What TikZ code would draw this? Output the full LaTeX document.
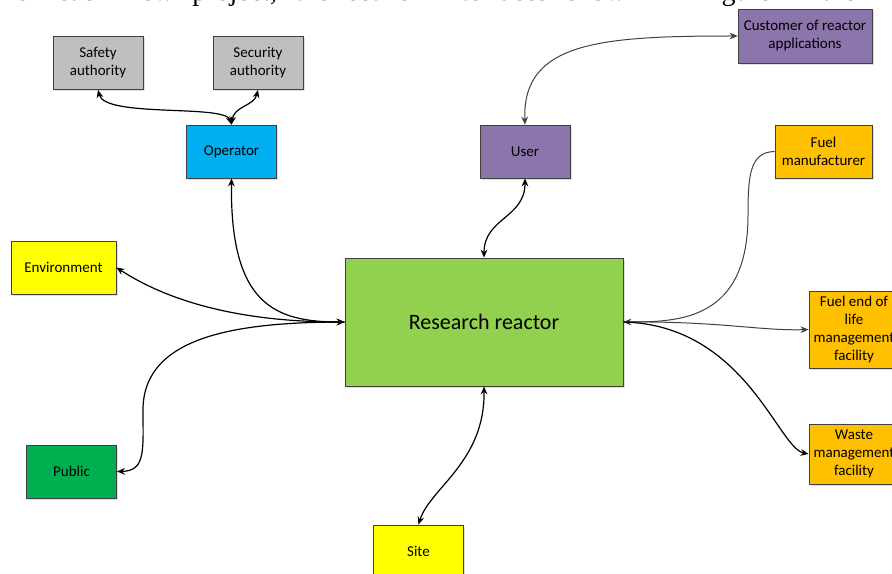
\documentclass[tikz,border=0pt]{standalone}
\usepackage{fontspec}
\setmainfont{Carlito}
\newfontfamily\bodyfont{Liberation Serif}
\usepackage{tikz}
\usetikzlibrary{arrows.meta,shadows}

\definecolor{boxgray}{HTML}{BFBFBF}
\definecolor{opblue}{HTML}{00B0F0}
\definecolor{userpurple}{HTML}{8B75AB}
\definecolor{fuelorange}{HTML}{FFC000}
\definecolor{envyellow}{HTML}{FFFF00}
\definecolor{pubgreen}{HTML}{00B050}
\definecolor{reactorgreen}{HTML}{92D050}
\definecolor{linegray}{HTML}{404040}

\begin{document}
\begin{tikzpicture}[x=0.75pt,y=0.75pt,
  box/.style={draw=linegray,line width=0.6pt,inner sep=0pt,align=center,
    minimum width=67.5pt,minimum height=39.75pt,
    font=\fontsize{11.25pt}{13.5pt}\selectfont,
    drop shadow={shadow xshift=1.2pt,shadow yshift=-1.2pt,opacity=0.25}},
  link/.style={line width=0.9pt,black,{Stealth[length=6pt,width=5pt]}-{Stealth[length=6pt,width=5pt]}},
  glink/.style={line width=0.75pt,linegray},
  tip/.style={-{Stealth[length=6pt,width=5pt]}}]
\useasboundingbox (0,0) rectangle (892,-574);

% clipped body text above the figure
\node[anchor=base west,inner sep=0pt] (bodytext) at (0,-1)
  {\bodyfont\fontsize{21pt}{25pt}\selectfont\spaceskip=13.8pt
   For each new project, the set of interfaces shown in Figure 2 are};

% boxes
\node[box,fill=boxgray] (safety) at (98,-63) {Safety\\authority};
\node[box,fill=boxgray] (security) at (258,-63) {Security\\authority};
\node[box,fill=opblue] (operator) at (231.5,-151.5) {Operator};
\node[box,fill=userpurple] (user) at (525,-151.5) {User};
\node[box,fill=userpurple,minimum width=100.5pt,minimum height=40.5pt] (customer) at (805,-36) {Customer of reactor\\applications};
\node[box,fill=fuelorange,minimum width=72.75pt] (fuelman) at (823.5,-151.5) {Fuel\\manufacturer};
\node[box,fill=envyellow,minimum width=78.75pt] (environment) at (63.5,-267.5) {Environment};
\node[box,fill=pubgreen] (public) at (71.5,-471.5) {Public};
\node[box,fill=reactorgreen,minimum width=208.5pt,minimum height=96pt,
  font=\fontsize{16.5pt}{20pt}\selectfont] (reactor) at (484,-322) {Research reactor};
\node[box,fill=fuelorange,minimum height=57.75pt] (fuelend) at (854,-329.5) {Fuel end of\\life\\management\\facility};
\node[box,fill=fuelorange,minimum height=45pt] (waste) at (854,-454) {Waste\\management\\facility};
\node[box,fill=envyellow] (site) at (418.5,-551.5) {Site};

% interfaces of the operator
\draw[link] (safety.south) .. controls (105,-118) and (225,-104) .. (operator.north);
\draw[link] (security.south) .. controls (254,-106) and (234,-106) .. (operator.north);
\draw[link] (operator.south) .. controls (230,-305) and (275,-322) .. (reactor.west);

% left side
\draw[link] (environment.east) .. controls (185,-312) and (270,-322) .. (reactor.west);
\coordinate (pubbend) at (143,-410);
\draw[line width=0.9pt,{Stealth[length=6pt,width=5pt]}-] (public.east) .. controls (146,-471) and (143,-450) .. (pubbend)
  .. controls (143,-335) and (240,-322) .. (reactor.west);

% user side
\draw[link] (user.south) .. controls (525,-218) and (484,-218) .. (reactor.north);
\draw[glink,{Stealth[length=6pt,width=5pt]}-{Stealth[length=6pt,width=5pt]}] (user.north) .. controls (522,-42) and (600,-36) .. (customer.west);

% fuel cycle
\coordinate (fuelbend) at (748,-215);
\draw[glink,tip] (fuelman.west) .. controls (750,-152) and (748,-175) .. (fuelbend)
  .. controls (748,-320) and (680,-322) .. (reactor.east);
\draw[glink,tip] (reactor.east) .. controls (720,-321) and (760,-331) .. (fuelend.west);
\draw[line width=0.9pt,tip] (reactor.east) .. controls (745,-325) and (778,-448) .. (waste.west);

% site
\draw[link] (reactor.south) .. controls (485,-462) and (430,-488) .. (site.north);
\end{tikzpicture}
\end{document}
